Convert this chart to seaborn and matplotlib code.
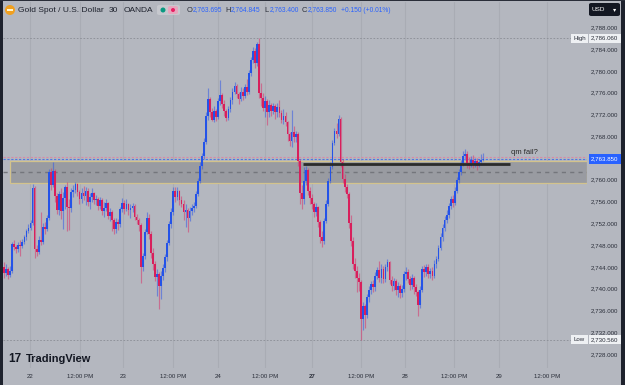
import numpy as np
import pandas as pd
import matplotlib
matplotlib.use("Agg")
import matplotlib.pyplot as plt
import seaborn as sns
from matplotlib.patches import Rectangle, FancyBboxPatch, Ellipse

# ---------------- data (30-min candles, XAUUSD OANDA) ----------------
first_open = 2744.0
closes = [
    2742.8, 2743.6, 2742.5, 2743.2, 2748.2, 2747.6, 2747.2, 2748.0, 2747.8, 2748.6,
    2749.4, 2750.6, 2751.2, 2752.0, 2758.4, 2747.2, 2746.8, 2749.0, 2748.6, 2751.4,
    2751.0, 2753.0, 2761.4, 2759.0, 2761.6, 2757.0, 2754.4, 2757.4, 2754.2, 2756.6,
    2758.6, 2755.0, 2754.8, 2757.8, 2758.2, 2759.2, 2757.8, 2756.4, 2757.6, 2757.0,
    2758.0, 2756.0, 2756.8, 2757.6, 2756.2, 2756.4, 2755.2, 2756.2, 2754.2, 2754.8,
    2755.8, 2753.4, 2754.0, 2752.6, 2751.0, 2752.2, 2751.8, 2754.6, 2755.8, 2754.6,
    2755.6, 2754.4, 2754.8, 2755.2, 2753.2, 2752.6, 2751.6, 2744.0, 2746.0, 2750.4,
    2753.0, 2750.0, 2746.6, 2744.6, 2742.2, 2742.6, 2740.4, 2742.4, 2743.8, 2745.8,
    2748.4, 2751.8, 2754.0, 2758.0, 2756.8, 2758.0, 2756.2, 2755.6, 2754.0, 2754.4,
    2753.0, 2754.2, 2754.8, 2755.2, 2757.4, 2759.8, 2762.6, 2764.4, 2767.0, 2771.8,
    2774.8, 2772.4, 2771.0, 2772.6, 2771.6, 2774.4, 2775.6, 2774.0, 2772.6, 2771.4,
    2773.0, 2774.6, 2776.2, 2777.2, 2775.8, 2774.8, 2776.2, 2775.4, 2777.0, 2776.2,
    2779.6, 2782.0, 2783.6, 2781.4, 2785.0, 2776.0, 2775.0, 2773.2, 2774.4, 2772.4,
    2773.8, 2772.6, 2773.6, 2772.4, 2773.4, 2772.2, 2771.0, 2771.8, 2770.6, 2768.4,
    2767.2, 2768.8, 2767.8, 2768.4, 2763.4, 2757.6, 2756.4, 2759.8, 2761.8, 2758.0,
    2756.6, 2755.6, 2754.0, 2755.0, 2752.2, 2749.4, 2748.8, 2752.4, 2755.6, 2759.8,
    2762.4, 2766.8, 2769.0, 2768.4, 2771.2, 2763.2, 2760.2, 2758.6, 2757.4, 2752.0,
    2748.8, 2744.6, 2743.2, 2742.0, 2741.2, 2734.4, 2736.8, 2735.2, 2738.4, 2739.8,
    2740.8, 2740.2, 2742.4, 2743.4, 2742.0, 2743.6, 2741.8, 2744.0, 2744.8, 2741.6,
    2740.4, 2741.4, 2739.8, 2740.4, 2739.2, 2740.0, 2742.6, 2743.0, 2741.8, 2740.6,
    2742.0, 2740.2, 2739.4, 2737.0, 2739.8, 2743.6, 2743.0, 2744.0, 2742.6, 2743.2,
    2742.4, 2744.6, 2745.4, 2747.4, 2749.4, 2751.2, 2752.6, 2753.6, 2755.2, 2756.4,
    2755.8, 2758.0, 2760.0, 2761.4, 2763.0, 2764.4, 2764.8, 2763.0, 2762.6, 2763.6,
    2762.8, 2763.4, 2762.6, 2763.2, 2763.695, 2763.85,
]
highs = [
    2744.8, 2744.5, 2744.0, 2744.2, 2748.6, 2749.0, 2748.0, 2748.6, 2749.0, 2749.2,
    2749.8, 2751.0, 2751.8, 2752.6, 2759.2, 2758.8, 2748.0, 2749.6, 2754.0, 2752.0,
    2752.2, 2753.6, 2762.0, 2762.2, 2763.3, 2762.0, 2757.6, 2758.0, 2758.4, 2757.8,
    2759.0, 2759.6, 2756.4, 2758.4, 2759.0, 2759.6, 2759.4, 2758.2, 2758.4, 2758.8,
    2758.6, 2758.4, 2757.6, 2758.4, 2757.8, 2757.2, 2756.8, 2756.8, 2756.6, 2756.0,
    2756.4, 2756.0, 2754.8, 2754.4, 2753.0, 2753.0, 2752.8, 2755.0, 2756.6, 2756.2,
    2756.4, 2755.8, 2755.6, 2755.8, 2755.6, 2753.8, 2753.0, 2752.0, 2746.6, 2751.0,
    2754.0, 2753.8, 2750.6, 2747.4, 2745.0, 2743.6, 2743.0, 2743.2, 2744.6, 2746.4,
    2749.0, 2752.4, 2754.8, 2758.6, 2758.6, 2758.6, 2758.2, 2757.0, 2756.2, 2755.6,
    2754.8, 2755.0, 2755.6, 2756.0, 2758.0, 2760.4, 2763.2, 2765.0, 2767.6, 2772.4,
    2776.8, 2775.2, 2773.2, 2773.6, 2773.0, 2775.0, 2778.4, 2776.0, 2774.6, 2773.0,
    2773.6, 2775.2, 2776.8, 2778.0, 2777.6, 2776.2, 2777.0, 2776.8, 2777.6, 2778.6,
    2780.2, 2782.6, 2784.4, 2784.2, 2785.4, 2786.06, 2777.8, 2776.0, 2775.4, 2774.8,
    2774.6, 2774.2, 2774.2, 2774.0, 2774.2, 2774.6, 2772.8, 2773.0, 2772.4, 2770.8,
    2768.8, 2772.8, 2769.8, 2769.0, 2768.8, 2763.8, 2759.0, 2762.4, 2762.6, 2762.2,
    2758.6, 2757.4, 2756.0, 2755.8, 2755.2, 2752.6, 2750.6, 2753.0, 2756.2, 2760.4,
    2763.2, 2767.4, 2769.6, 2770.4, 2771.9, 2771.6, 2763.8, 2761.0, 2759.2, 2757.8,
    2753.6, 2749.4, 2745.6, 2744.2, 2742.8, 2741.6, 2737.6, 2737.2, 2739.0, 2740.4,
    2741.4, 2741.6, 2743.0, 2744.0, 2745.0, 2744.6, 2744.2, 2744.6, 2745.4, 2745.0,
    2742.4, 2742.0, 2741.8, 2741.2, 2740.8, 2740.6, 2743.2, 2744.0, 2743.6, 2742.4,
    2742.6, 2742.4, 2740.8, 2739.8, 2740.4, 2744.2, 2744.4, 2744.6, 2744.6, 2743.8,
    2744.0, 2745.2, 2746.0, 2748.0, 2750.2, 2751.8, 2753.4, 2754.4, 2755.8, 2757.0,
    2757.2, 2758.6, 2760.6, 2762.0, 2763.6, 2765.2, 2765.6, 2765.2, 2764.2, 2764.4,
    2764.6, 2764.0, 2764.0, 2763.8, 2764.8, 2764.845,
]
lows = [
    2742.0, 2742.3, 2741.8, 2742.1, 2742.8, 2747.0, 2746.5, 2746.8, 2746.0, 2747.4,
    2748.2, 2749.0, 2750.2, 2750.8, 2751.6, 2745.6, 2746.0, 2746.4, 2748.0, 2748.2,
    2750.0, 2750.6, 2752.6, 2758.2, 2758.6, 2756.0, 2753.8, 2753.6, 2752.8, 2751.0,
    2754.6, 2750.6, 2750.8, 2754.0, 2756.8, 2757.6, 2757.0, 2755.6, 2755.8, 2756.2,
    2755.4, 2755.2, 2754.6, 2756.0, 2755.6, 2755.4, 2754.4, 2754.6, 2753.6, 2753.2,
    2754.2, 2752.8, 2752.4, 2750.6, 2750.0, 2750.2, 2750.8, 2751.4, 2754.0, 2753.8,
    2754.2, 2753.6, 2753.0, 2754.0, 2752.6, 2751.8, 2750.6, 2741.0, 2743.2, 2745.4,
    2750.0, 2749.2, 2745.6, 2743.4, 2741.4, 2738.6, 2736.2, 2738.0, 2741.6, 2743.0,
    2745.0, 2748.0, 2751.2, 2753.6, 2756.0, 2756.2, 2755.4, 2755.0, 2752.6, 2751.4,
    2750.4, 2752.4, 2753.6, 2754.0, 2754.8, 2757.0, 2759.4, 2762.0, 2763.8, 2766.6,
    2771.0, 2771.6, 2770.8, 2770.6, 2770.8, 2771.2, 2773.8, 2773.2, 2771.8, 2770.8,
    2771.0, 2772.4, 2774.0, 2775.8, 2775.0, 2774.0, 2774.4, 2774.6, 2775.0, 2775.6,
    2775.8, 2779.0, 2781.4, 2780.6, 2781.0, 2775.0, 2773.6, 2772.6, 2771.6, 2770.0,
    2771.6, 2771.8, 2772.0, 2771.2, 2771.6, 2771.6, 2770.4, 2770.2, 2769.8, 2767.2,
    2766.2, 2766.0, 2767.0, 2767.0, 2762.6, 2755.6, 2754.6, 2755.6, 2759.0, 2757.2,
    2755.6, 2754.6, 2753.2, 2753.4, 2751.4, 2748.4, 2747.6, 2748.2, 2752.0, 2755.2,
    2759.4, 2762.0, 2766.4, 2767.6, 2768.0, 2762.4, 2759.4, 2757.8, 2756.6, 2751.2,
    2747.8, 2743.6, 2742.0, 2739.4, 2739.6, 2730.56, 2732.4, 2732.8, 2734.6, 2737.6,
    2739.0, 2739.4, 2739.6, 2741.8, 2741.2, 2741.0, 2741.0, 2741.2, 2743.2, 2740.8,
    2739.6, 2739.8, 2738.8, 2738.4, 2738.2, 2738.4, 2739.4, 2741.6, 2741.0, 2739.8,
    2740.0, 2739.0, 2738.6, 2735.0, 2736.4, 2739.4, 2742.2, 2742.4, 2742.0, 2742.0,
    2741.6, 2742.0, 2743.8, 2745.0, 2747.0, 2748.8, 2750.6, 2752.0, 2753.0, 2754.6,
    2755.0, 2755.4, 2757.6, 2759.4, 2760.8, 2762.6, 2763.6, 2762.2, 2762.0, 2762.4,
    2762.2, 2762.4, 2761.8, 2762.4, 2762.8, 2763.4,
]
time_labels = ["22", "12:00 PM", "23", "12:00 PM", "24", "12:00 PM",
               "27", "12:00 PM", "28", "12:00 PM", "29", "12:00 PM"]
price_ticks = list(range(2728, 2789, 4))
zone_low, zone_high, zone_mid = 2759.36, 2763.46, 2761.4
qm_level = 2762.85
high_val, low_val, last_val = 2786.06, 2730.56, 2763.85

# ---------------- styling ----------------
sns.set_theme(style="white")
plt.rcParams["font.family"] = ["Liberation Sans", "DejaVu Sans"]
BG = "#b4b7bf"
UP, DN = "#2453e8", "#d81f5c"
TXT = "#2a2e39"

W, H = 625, 385
def fx(x): return x / W
def fy(y): return 1 - y / H

fig = plt.figure(figsize=(6.25, 3.85), dpi=100, facecolor=BG)
ax = fig.add_axes([fx(3), fy(368), 584 / W, 366 / H])
ax.set_facecolor(BG)
for s in ax.spines.values():
    s.set_visible(False)

df = pd.DataFrame({"close": closes, "high": highs, "low": lows})
df["open"] = [first_open] + closes[:-1]
df["high"] = df[["high", "open", "close"]].max(axis=1)
df["low"] = df[["low", "open", "close"]].min(axis=1)
df["up"] = df["close"] >= df["open"]
idx = np.arange(len(df))

XMIN, XMAX = -0.49, 285.8
ax.set_xlim(XMIN, XMAX)
ax.set_ylim(2725.40, 2792.68)

# zone box
ax.add_patch(Rectangle((2.9, zone_low), XMAX - 2.9, zone_high - zone_low,
                       facecolor="#999ba1", edgecolor="#d3c38c", lw=0.9, zorder=1))
ax.axhline(zone_mid, color="#74767c", lw=1.0, ls=(0, (3, 3)), zorder=1.5)

# level lines
ax.axhline(high_val, color="#8a8d95", lw=0.6, ls=(0, (2, 2)), zorder=1)
ax.axhline(low_val, color="#8a8d95", lw=0.6, ls=(0, (2, 2)), zorder=1)
ax.axhline(last_val + 0.35, color="#d98aa5", lw=0.8, ls=(0, (2, 1.5)), zorder=2)
ax.axhline(last_val, color="#4d78e0", lw=0.8, ls=(0, (2, 1.5)), zorder=2)

# candles
wick_cols = [(0.20, 0.35, 0.90, 0.55) if u else (0.85, 0.20, 0.42, 0.55) for u in df["up"]]
ax.vlines(idx, df["low"], df["high"], colors=wick_cols, lw=0.85, zorder=3)
body_bottom = df[["open", "close"]].min(axis=1)
body_h = (df["close"] - df["open"]).abs().clip(lower=0.15)
ax.bar(idx, body_h, bottom=body_bottom, width=0.85,
       color=[UP if u else DN for u in df["up"]], linewidth=0, zorder=4)

# qm line + text
ax.hlines(qm_level, 146.6, 248.0, color="#2b2b2b", lw=2.0, zorder=5)
ax.text(248.5, 2765.1, "qm fail?", fontsize=5.5, color="#2a2a2a", va="center", ha="left")

# axes ticks
tick_pos = [12.75, 37.25, 58.3, 82.8, 104.9, 127.9, 151.0, 175.0, 196.6, 220.6, 242.6, 266.2]
ax.set_xticks(tick_pos)
ax.set_xticklabels(time_labels)
ax.tick_params(axis="x", length=0, pad=4.5, labelsize=4.4, labelcolor=TXT)
for lab in ax.get_xticklabels():
    if lab.get_text() == "27":
        lab.set_fontweight("bold")
ax.grid(axis="x", color="#a9acb4", lw=0.8, zorder=0)
ax.grid(axis="y", visible=False)
ax.yaxis.tick_right()
ax.set_yticks(price_ticks)
ax.set_yticklabels([f"{v:,.3f}" for v in price_ticks])
ax.tick_params(axis="y", length=0, pad=3, labelsize=4.4, labelcolor=TXT)

# ---------------- overlays (header, labels, borders) ----------------
def prect(x0, y0, x1, y1, color, rounded=False, z=10):
    if rounded:
        p = FancyBboxPatch((fx(x0), fy(y1)), fx(x1) - fx(x0), fy(y0) - fy(y1),
                           boxstyle="round,pad=0,rounding_size=0.004",
                           transform=fig.transFigure, facecolor=color, edgecolor="none", zorder=z)
    else:
        p = Rectangle((fx(x0), fy(y1)), fx(x1) - fx(x0), fy(y0) - fy(y1),
                      transform=fig.transFigure, facecolor=color, edgecolor="none", zorder=z)
    fig.add_artist(p)

def ptext(x, y, s, size=6, color=TXT, **kw):
    fig.text(fx(x), fy(y), s, fontsize=size, color=color, va="center", ha="left", zorder=12, **kw)

# borders
prect(0, 0, 2.5, 385, "#1e222d")
prect(621, 0, 625, 385, "#1e222d")
prect(0, 0, 625, 1, "#2a2e39")

# header
fig.add_artist(Ellipse((fx(10), fy(10)), 10 / W, 10 / H, transform=fig.transFigure,
                       facecolor="#f0a020", edgecolor="none", zorder=11))
prect(7, 9, 13, 11, "#fff4d0", z=12)
ptext(18, 10, "Gold Spot / U.S. Dollar", 6.0, "#1e222d")
ptext(109, 10, "30", 6.0, "#1e222d")
ptext(124, 10, "OANDA", 6.0, "#1e222d")
prect(157, 5, 180, 15, "#c6c8ce", rounded=True)
fig.add_artist(Ellipse((fx(163), fy(10)), 5 / W, 5 / H, transform=fig.transFigure,
                       facecolor="#089981", edgecolor="none", zorder=11))
prect(168, 6, 178, 14, "#e6a6bd", rounded=True, z=11)
fig.add_artist(Ellipse((fx(173), fy(10)), 4 / W, 4 / H, transform=fig.transFigure,
                       facecolor="#e91e63", edgecolor="none", zorder=12))
ohlc = [(187, "O", "2,763.695"), (225, "H", "2,764.845"),
        (264, "L", "2,763.400"), (302, "C", "2,763.850")]
for x, k, v in ohlc:
    ptext(x, 10, k, 5.4, "#2a2e39")
    ptext(x + 5.3, 10, v, 4.8, "#2962ff")
ptext(341, 10, "+0.150 (+0.01%)", 4.8, "#2962ff")

# USD box
prect(589, 3, 620, 16, "#131722", rounded=True)
ptext(592, 9.5, "USD", 4.6, "#ffffff")
ptext(613, 9.5, "▾", 4.6, "#ffffff", family="DejaVu Sans")

# High / Low / last price labels
def ylab_py(p):
    return 71 + (2780 - p) * 5.44
for name, val in [("High", high_val), ("Low", low_val)]:
    yy = ylab_py(val)
    prect(571, yy - 4.5, 587.5, yy + 4.5, "#eef0f3")
    prect(588.5, yy - 4.5, 621, yy + 4.5, "#eef0f3")
    ptext(573, yy, name, 4.4, TXT)
    ptext(590.5, yy, f"{val:,.3f}", 4.4, TXT)
yy = ylab_py(last_val)
prect(588.5, yy - 4.8, 621, yy + 4.8, "#2962ff")
ptext(590.5, yy, f"{last_val:,.3f}", 4.4, "#ffffff")

# TradingView logo
ptext(8, 358.5, "17", 8.5, "#131722", fontweight="heavy")
ptext(26, 358.5, "TradingView", 7.9, "#131722", fontweight="bold")

fig.savefig("out.png", dpi=100, facecolor=BG)
